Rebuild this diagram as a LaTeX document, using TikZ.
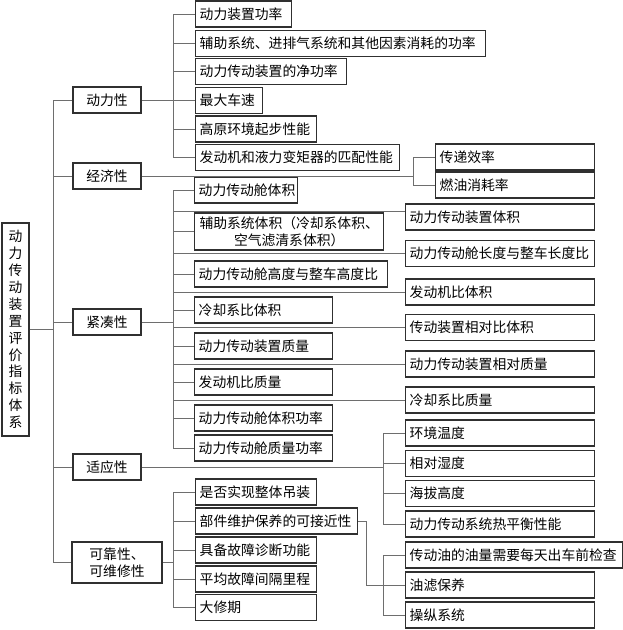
\documentclass[tikz,border=0pt]{standalone}
\usepackage{fontspec}
\newfontfamily\cjk{Noto Sans CJK SC}
\definecolor{boxc}{HTML}{303030}
\definecolor{linec}{HTML}{6E6E6E}
\begin{document}
\begin{tikzpicture}[x=1pt,y=-1pt,
  bx/.style={draw=boxc, line width=1.4pt, anchor=west, inner xsep=4pt, inner ysep=0pt,
    minimum height=26pt, align=left, font=\cjk\fontsize{13.8}{16.9}\selectfont},
  cb/.style={draw=boxc, line width=1.4pt, inner sep=0pt, minimum height=26pt,
    align=center, font=\cjk\fontsize{13.8}{16.9}\selectfont},
  ln/.style={draw=linec, line width=0.9pt}]
\useasboundingbox (0,0) rectangle (623,630);
\fill[white] (0,0) rectangle (623,630);

% root
\node[cb, minimum width=27pt, minimum height=213pt] (root) at (15.5,329.5)
  {动\\力\\传\\动\\装\\置\\评\\价\\指\\标\\体\\系};

% level 1
\node[cb, minimum width=68pt] (La) at (107,100) {动力性};
\node[cb, minimum width=68pt] (Lb) at (107,176) {经济性};
\node[cb, minimum width=68pt] (Lc) at (107,322) {紧凑性};
\node[cb, minimum width=68pt] (Ld) at (107,467) {适应性};
\node[cb, minimum width=90pt, minimum height=41pt] (Le) at (117,562.5) {可靠性、\\可维修性};

% power
\node[bx, text width=88pt]  (p1) at (195,14)    {动力装置功率};
\node[bx, text width=282pt] (p2) at (195,43.5)  {辅助系统、进排气系统和其他因素消耗的功率};
\node[bx, text width=143pt] (p3) at (195,71.5)  {动力传动装置的净功率};
\node[bx, text width=59pt]  (p4) at (195,100.5) {最大车速};
\node[bx, text width=113pt] (p5) at (195,129)   {高原环境起步性能};
\node[bx, text width=196pt] (p6) at (195,157.5) {发动机和液力变矩器的匹配性能};

% economy
\node[bx, text width=151pt] (e1) at (435,157) {传递效率};
\node[bx, text width=151pt] (e2) at (435,185) {燃油消耗率};

% compactness, middle column
\node[bx, text width=95pt]  (c1) at (194,190)   {动力传动舱体积};
\node[bx, text width=181pt, minimum height=37pt, align=center] (c2) at (194,231.5)
  {辅助系统体积（冷却系体积、\\空气滤清系体积）};
\node[bx, text width=185pt] (c3) at (194,274)   {动力传动舱高度与整车高度比};
\node[bx, text width=130pt] (c4) at (194,310)   {冷却系比体积};
\node[bx, text width=130pt] (c5) at (194,346)   {动力传动装置质量};
\node[bx, text width=130pt] (c6) at (194,382)   {发动机比质量};
\node[bx, text width=130pt] (c7) at (194,418)   {动力传动舱体积功率};
\node[bx, text width=130pt] (c8) at (194,448)   {动力传动舱质量功率};

% compactness, right column
\node[bx, text width=181pt] (r1) at (405,217)   {动力传动装置体积};
\node[bx, text width=181pt] (r2) at (405,253.5) {动力传动舱长度与整车长度比};
\node[bx, text width=181pt] (r3) at (405,292)   {发动机比体积};
\node[bx, text width=181pt] (r4) at (405,327.5) {传动装置相对比体积};
\node[bx, text width=181pt] (r5) at (405,364)   {动力传动装置相对质量};
\node[bx, text width=181pt] (r6) at (405,400)   {冷却系比质量};

% adaptability
\node[bx, text width=181pt] (s1) at (405,433)   {环境温度};
\node[bx, text width=181pt] (s2) at (405,463.5) {相对湿度};
\node[bx, text width=181pt] (s3) at (405,493.5) {海拔高度};
\node[bx, text width=181pt] (s4) at (405,524)   {动力传动系统热平衡性能};

% reliability
\node[bx, text width=113pt] (m1) at (195,492)   {是否实现整体吊装};
\node[bx, text width=154pt] (m2) at (195,521)   {部件维护保养的可接近性};
\node[bx, text width=113pt] (m3) at (195,550)   {具备故障诊断功能};
\node[bx, text width=113pt] (m4) at (195,579)   {平均故障间隔里程};
\node[bx, text width=113pt] (m5) at (195,607.5) {大修期};

\node[bx, text width=209pt] (n1) at (405,555) {传动油的油量需要每天出车前检查};
\node[bx, text width=181pt] (n2) at (405,585) {油滤保养};
\node[bx, text width=181pt] (n3) at (405,615) {操纵系统};

% bus coordinates
\coordinate (tr) at (53,0);
\coordinate (bA) at (173,0);
\coordinate (bB) at (413,0);
\coordinate (bC) at (383,0);
\coordinate (jog) at (366,0);
\coordinate (r1in) at ([yshift=6pt]r1.west);

% trunk
\draw[ln] (root.east) -- (tr |- root.east);
\draw[ln] (tr |- La.west) -- (tr |- Le.west);
\foreach \n in {La,Lb,Lc,Ld,Le} \draw[ln] (tr |- \n.west) -- (\n.west);

% power
\draw[ln] (La.east) -- (bA |- La.east);
\draw[ln] (bA |- p1.west) -- (bA |- p6.west);
\foreach \n in {p1,p2,p3,p4,p5,p6} \draw[ln] (bA |- \n.west) -- (\n.west);

% economy
\draw[ln] (Lb.east) -- (bB |- Lb.east);
\draw[ln] (bB |- e1.west) -- (bB |- e2.west);
\foreach \n in {e1,e2} \draw[ln] (bB |- \n.west) -- (\n.west);

% compactness
\draw[ln] (Lc.east) -- (bA |- Lc.east);
\draw[ln] (bA |- c1.west) -- (bA |- c8.west);
\foreach \n in {c1,c2,c3,c4,c5,c6,c7,c8} \draw[ln] (bA |- \n.west) -- (\n.west);
\draw[ln] (bA |- r1in) -- (r1in);
\foreach \n in {r2,r3,r4,r5,r6} \draw[ln] (bA |- \n.west) -- (\n.west);

% adaptability
\draw[ln] (Ld.east) -- (bC |- Ld.east);
\draw[ln] (bC |- s1.west) -- (bC |- s4.west);
\foreach \n in {s1,s2,s3,s4} \draw[ln] (bC |- \n.west) -- (\n.west);

% reliability
\draw[ln] (Le.east) -- (bA |- Le.east);
\draw[ln] (bA |- m1.west) -- (bA |- m5.west);
\foreach \n in {m1,m2,m3,m4,m5} \draw[ln] (bA |- \n.west) -- (\n.west);
\draw[ln] (m2.east) -- (jog |- m2.east) -- (jog |- n2.west) -- (n2.west);
\draw[ln] (bC |- n1.west) -- (bC |- n3.west);
\foreach \n in {n1,n3} \draw[ln] (bC |- \n.west) -- (\n.west);
\end{tikzpicture}
\end{document}
